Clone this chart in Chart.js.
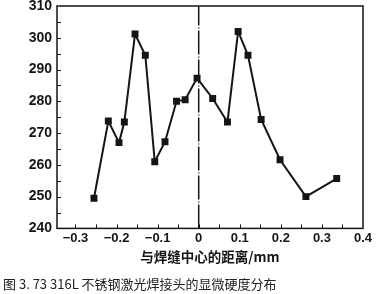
<!DOCTYPE html>
<html>
<head>
<meta charset="utf-8">
<script src="https://cdn.jsdelivr.net/npm/chart.js@4.4.0/dist/chart.umd.min.js"></script>
<style>
  html, body { margin: 0; padding: 0; background: #fff; }
  #wrap { width: 376px; height: 294px; position: relative; }
</style>
</head>
<body>
<div id="wrap"><canvas id="hardChart" width="376" height="294"></canvas></div>
<script>
// distance from weld centre (mm) and microhardness readings
const distance = [-0.255, -0.220, -0.194, -0.181, -0.155, -0.130, -0.107, -0.082, -0.054, -0.033, -0.004,
                  0.034, 0.070, 0.096, 0.120, 0.152, 0.198, 0.261, 0.336];
const hardness = [249.5, 273.8, 267.0, 273.5, 301.2, 294.5, 261.0, 267.3, 280.0, 280.5, 287.3,
                  280.9, 273.5, 302.0, 294.5, 274.3, 261.6, 250.0, 255.7];
const xTicks = [-0.3, -0.2, -0.1, 0, 0.1, 0.2, 0.3, 0.4];
const yTicks = [240, 250, 260, 270, 280, 290, 300, 310];
const xMinor = [-0.3, -0.25, -0.2, -0.15, -0.1, -0.05, 0, 0.05, 0.1, 0.15, 0.2, 0.25, 0.3, 0.35];
const yMinor = [245, 250, 255, 260, 265, 270, 275, 280, 285, 290, 295, 300, 305];
const centreLine = [0, 0];
const centreSpan = [240, 310];
const xTitle = '与焊缝中心的距离/mm';
const caption = '图 3. 73 316L 不锈钢激光焊接头的显微硬度分布';

const ink = '#151515';

// frame + inward tick marks
const framePlugin = {
    id: 'frame',
    afterDatasetsDraw(chart) {
        const { ctx, chartArea: a, scales } = chart;
        ctx.save();
        ctx.strokeStyle = ink;
        ctx.lineWidth = 1.5;
        ctx.strokeRect(a.left, a.top, a.right - a.left, a.bottom - a.top);
        ctx.lineWidth = 1;
        ctx.beginPath();
        xMinor.forEach(v => {
            const px = Math.round(scales.x.getPixelForValue(v)) + 0.5;
            ctx.moveTo(px, a.bottom);
            ctx.lineTo(px, a.bottom - 4);
        });
        yMinor.forEach(v => {
            const py = Math.round(scales.y.getPixelForValue(v)) + 0.5;
            ctx.moveTo(a.left, py);
            ctx.lineTo(a.left + 4, py);
        });
        ctx.stroke();
        ctx.restore();
    }
};

const hardChart = new Chart(document.getElementById('hardChart').getContext('2d'), {
    type: 'line',
    data: {
        datasets: [
            {
                data: distance.map((d, i) => ({ x: d, y: hardness[i] })),
                borderColor: ink,
                backgroundColor: ink,
                borderWidth: 2,
                pointStyle: 'rect',
                pointRadius: 3.5,
                pointHoverRadius: 3.5,
                tension: 0
            },
            {
                data: centreLine.map((d, i) => ({ x: d, y: centreSpan[i] })),
                borderColor: ink,
                borderWidth: 1.5,
                borderDash: [24, 2, 1, 2],
                pointRadius: 0
            }
        ]
    },
    options: {
        responsive: false,
        animation: false,
        layout: { padding: { top: 6, right: 13, left: 3, bottom: 0 } },
        plugins: {
            legend: { display: false },
            tooltip: { enabled: false },
            title: {
                display: true,
                text: caption,
                position: 'bottom',
                align: 'start',
                color: '#222',
                font: { family: '"Noto Sans CJK SC", sans-serif', size: 13, weight: 'normal' },
                padding: { top: 6, bottom: 2 }
            }
        },
        scales: {
            x: {
                type: 'linear',
                min: -0.345,
                max: 0.4,
                afterBuildTicks: s => { s.ticks = xTicks.map(v => ({ value: v })); },
                afterFit: s => { s.height = 42; },
                grid: { display: false, drawTicks: false },
                border: { display: false },
                ticks: {
                    color: ink,
                    padding: 2,
                    font: { family: 'Liberation Sans', size: 13, weight: 'bold' },
                    callback: v => v === 0 ? '0' : (v < 0 ? '−' + Math.abs(v).toFixed(1) : v.toFixed(1))
                },
                title: {
                    display: true,
                    text: xTitle,
                    color: ink,
                    padding: { top: 2, bottom: 5 },
                    font: { family: '"Noto Sans CJK SC", sans-serif', size: 13.5, weight: 'bold' }
                }
            },
            y: {
                min: 240,
                max: 310,
                afterBuildTicks: s => { s.ticks = yTicks.map(v => ({ value: v })); },
                afterFit: s => { s.width = 54; s.paddingTop = 0; s.paddingBottom = 0; },
                grid: { display: false, drawTicks: false },
                border: { display: false },
                ticks: {
                    color: ink,
                    padding: 5,
                    font: { family: 'Liberation Sans', size: 14, weight: 'bold' }
                }
            }
        }
    },
    plugins: [framePlugin]
});
</script>
</body>
</html>
